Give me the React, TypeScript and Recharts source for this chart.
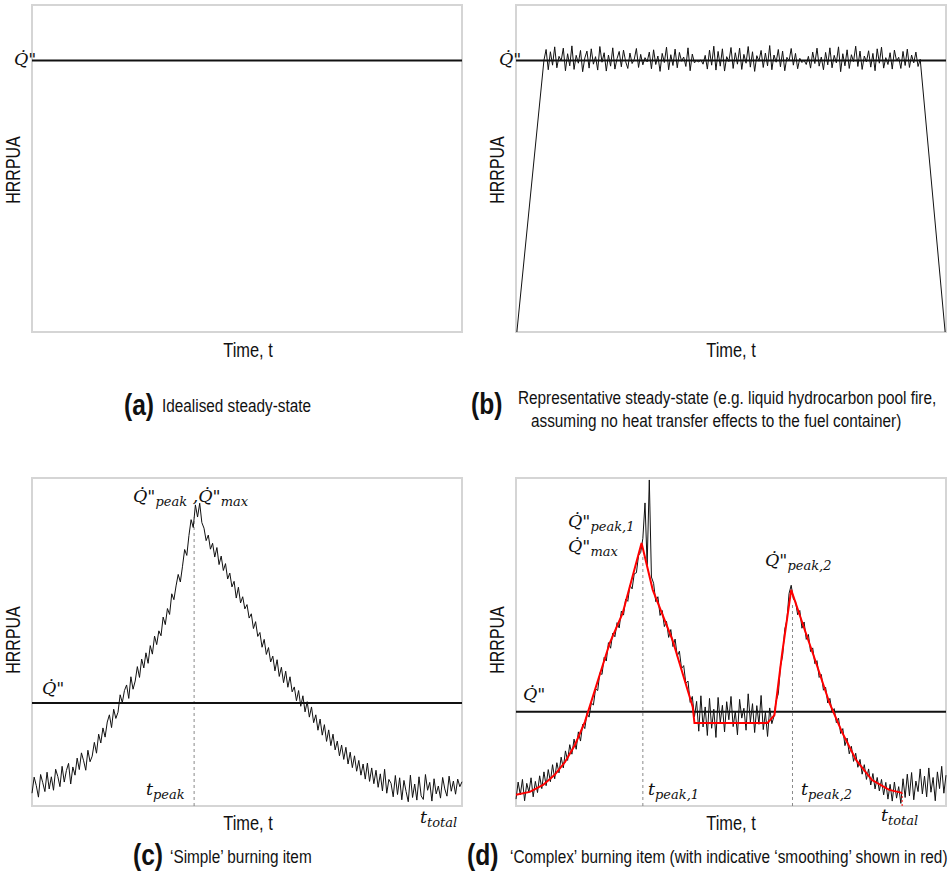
import React from 'react';
import { LineChart, Line, XAxis, YAxis, ReferenceLine, ReferenceArea } from 'recharts';

// sampling interval of the noisy records (time units, 0-100 across each panel)
const T_STEP = 0.5;

// steady-state HRRPUA level per panel (0-100 of panel height)
const Q_AB = 83;
const Q_C = 31.4;
const Q_D = 28.7;

// (b) representative steady state: ramp up, noisy plateau, ramp down
const B_RAMP_START = 0.2;
const B_NOISE_START = 6.5;
const B_RAMP_END = 99.8;
const bNoise = [
  83.1, 86.4, 80.2, 85.7, 81.6, 87.2, 80.8, 84.3, 82.9, 86.8,
  79.9, 85.1, 81.4, 87.5, 80.3, 84.6, 82.2, 86.1, 79.6, 83.8,
  85.9, 80.7, 86.6, 81.9, 84.2, 80.1, 87.3, 82.5, 85.4, 79.8,
  84.7, 81.3, 86.9, 80.4, 83.6, 85.8, 81.1, 86.2, 82.7, 80.6,
  85.3, 82.1, 83.4, 86.7, 80.9, 84.9, 81.7, 83.9, 82.6, 85.6,
  80.5, 86.3, 81.8, 84.4, 79.7, 85.2, 82.4, 87.1, 80.2, 84.8,
  81.5, 86.5, 80.8, 85.5, 82.8, 84.1, 81.2, 86.9, 79.9, 85.0,
  82.3, 83.0, 82.6, 83.2, 81.9, 84.6, 80.4, 86.2, 81.6, 87.4,
  80.1, 85.8, 81.3, 86.6, 79.8, 84.2, 82.7, 87.0, 80.6, 85.4,
  81.9, 86.8, 80.3, 84.9, 82.2, 87.3, 81.0, 85.7, 79.7, 84.5,
  82.8, 86.1, 80.9, 85.3, 81.4, 87.6, 80.2, 84.7, 82.5, 86.4,
  81.1, 85.9, 79.9, 84.0, 82.9, 86.7, 81.6, 85.2, 80.5, 83.7,
  82.4, 83.1, 81.8, 84.3, 80.7, 85.6, 82.1, 86.8, 81.3, 84.1,
  80.2, 85.5, 81.7, 86.9, 80.8, 84.6, 82.3, 87.2, 79.6, 85.1,
  81.4, 86.3, 80.6, 84.8, 82.7, 87.4, 81.2, 85.9, 80.3, 84.4,
  82.6, 86.0, 81.0, 85.2, 79.9, 86.6, 82.2, 87.1, 80.7, 83.9,
  81.8, 85.4, 80.4, 86.2, 82.9, 84.0, 80.6, 85.8, 81.5, 86.5,
  80.9, 84.7, 82.3, 85.6, 81.2, 83.4,
];

// (c) simple burning item
const C_PEAK_T = 37.7;
const cNoise = [
  3.9, 8.8, 6.2, 2.7, 9.6, 7.1, 4.4, 10.3, 5.2, 8.9,
  4.8, 11.2, 9.0, 5.9, 12.1, 7.3, 10.8, 13.0, 6.7, 11.9,
  9.4, 14.6, 11.1, 16.2, 13.8, 10.9, 17.0, 13.5, 15.2, 19.4,
  16.1, 21.9, 19.2, 23.8, 21.0, 25.6, 27.8, 23.9, 29.5, 26.7,
  28.6, 33.9, 31.5, 35.2, 36.9, 32.8, 39.4, 35.6, 38.1, 42.5,
  39.2, 44.8, 42.1, 46.7, 43.5, 48.9, 46.3, 51.8, 49.2, 53.4,
  51.9, 57.6, 55.3, 60.2, 58.4, 64.7, 62.9, 67.1, 70.6, 68.3,
  73.1, 78.2, 76.4, 82.5, 87.3, 84.9, 91.8, 88.1, 92.3, 86.4,
  84.7, 80.9, 82.6, 78.3, 80.1, 75.9, 78.8, 73.6, 76.2, 71.8,
  73.9, 69.2, 71.0, 66.8, 68.5, 63.4, 66.7, 61.9, 63.8, 60.1,
  61.4, 57.3, 58.6, 54.1, 56.2, 51.7, 52.9, 48.4, 50.8, 46.2,
  48.3, 43.9, 45.7, 41.2, 44.6, 39.5, 42.3, 37.6, 41.1, 36.2,
  39.4, 34.8, 36.3, 32.1, 35.2, 30.4, 33.6, 28.7, 31.8, 27.1,
  30.2, 25.4, 27.8, 23.1, 26.5, 21.6, 24.8, 19.7, 23.2, 18.4,
  21.9, 17.1, 19.8, 15.3, 18.6, 14.2, 17.9, 12.8, 16.4, 11.7,
  15.3, 10.6, 13.9, 9.4, 12.8, 8.2, 13.1, 7.5, 11.6, 6.8,
  10.9, 5.7, 9.8, 4.6, 11.2, 3.9, 8.1, 6.9, 2.8, 9.3,
  3.5, 8.6, 1.9, 7.8, 4.4, 1.3, 9.4, 2.6, 6.7, 1.8,
  8.9, 3.1, 2.0, 9.6, 4.8, 7.2, 1.5, 8.3, 3.7, 6.1,
  2.4, 8.7, 5.2, 3.0, 9.1, 4.5, 7.6, 3.6, 8.2, 5.9, 7.4,
];

// (d) complex burning item, measured record
const dNoise = [
  2.1, 7.3, 3.4, 8.1, 1.6, 6.9, 4.2, 8.6, 2.8, 7.5,
  4.1, 9.2, 5.3, 10.4, 6.2, 11.1, 7.4, 12.6, 8.3, 13.2,
  10.1, 14.9, 11.6, 16.8, 13.9, 18.7, 15.8, 20.4, 17.3, 22.6,
  19.8, 24.9, 23.6, 28.3, 27.1, 31.4, 30.8, 35.7, 35.2, 40.6,
  40.1, 45.3, 44.2, 49.8, 48.1, 52.7, 51.6, 55.9, 54.3, 59.4,
  58.2, 63.1, 62.4, 67.3, 66.2, 70.8, 71.1, 76.4, 77.3, 81.6,
  92.4, 73.5, 99.4, 69.8, 67.9, 62.3, 63.8, 58.1, 59.6, 54.7,
  56.3, 51.4, 53.8, 48.6, 50.9, 45.7, 47.2, 41.9, 42.8, 37.4,
  38.1, 31.6, 33.4, 27.2, 31.9, 22.8, 33.6, 24.1, 30.2, 21.5,
  32.8, 23.7, 29.5, 20.9, 33.1, 25.4, 30.7, 22.6, 31.8, 26.3,
  33.4, 24.2, 28.9, 21.7, 32.5, 26.8, 29.8, 23.1, 34.2, 25.6,
  31.2, 22.4, 30.6, 24.9, 33.7, 23.3, 28.6, 21.2, 29.9, 25.1,
  27.4, 32.1, 34.2, 42.6, 45.8, 53.9, 56.7, 64.8, 67.3, 63.1,
  62.4, 58.3, 59.6, 54.2, 56.1, 50.8, 52.3, 47.1, 48.2, 43.4,
  44.3, 39.2, 40.1, 35.3, 36.2, 31.4, 32.8, 28.6, 29.7, 25.4,
  26.8, 22.1, 23.6, 18.4, 20.7, 15.9, 18.2, 13.6, 16.1, 11.8,
  14.2, 9.7, 12.6, 8.1, 11.3, 6.4, 9.9, 5.2, 8.7, 4.6,
  8.1, 3.4, 7.2, 2.1, 6.6, 1.5, 7.3, 2.4, 5.9, 0.8,
  8.3, 2.6, 9.7, 3.1, 10.2, 1.9, 7.6, 4.4, 11.3, 3.7,
  9.1, 2.8, 11.6, 4.2, 8.7, 1.6, 10.4, 5.3, 12.1, 3.9, 9.4,
];

// (d) indicative smoothing (red)
const dSmoothT = [0, 3.2, 6.3, 9, 11.4, 13.7, 16, 21.8, 24.8, 29.2, 31.8, 36.4, 41.1, 41.5, 58.5, 60.1, 61.9, 64.0, 66.6, 69.8, 72.9, 75.9, 79.1, 82.8, 86.8, 89.8];
const dSmoothV = [3.4, 4.3, 6.4, 9.5, 13.4, 18.6, 25.6, 49.7, 58.8, 80.2, 65.9, 50.6, 30.2, 25.3, 25.3, 27.7, 46.6, 65.9, 55.8, 43.6, 31.4, 22.3, 14.0, 7.9, 4.9, 4.0];
const D_PEAK1_T = 29.5;
const D_PEAK2_T = 64.3;
const D_TOTAL_T = 89.8;

const BORDER = '#d5d5d5';
const SANS = '"Liberation Sans", Arial, sans-serif';
const SERIF = '"DejaVu Serif", serif';
const NARROW = 0.82;
const MATH_SIZE = 17.5;

const sampled = (vals: number[]) => vals.map((v, i) => ({ t: i * T_STEP, v }));

const aData = [{ t: 0, v: Q_AB }, { t: 100, v: Q_AB }];
const bData = [
  { t: B_RAMP_START, v: 0 },
  ...bNoise.map((v, i) => ({ t: B_NOISE_START + i * T_STEP, v })),
  { t: B_RAMP_END, v: 0 },
];
const cData = sampled(cNoise);
const dData = sampled(dNoise);
const dSmooth = dSmoothT.map((t, i) => ({ t, v: dSmoothV[i] }));

function Panel({ x, y, w, h, children }: { x: number; y: number; w: number; h: number; children?: React.ReactNode }) {
  return (
    <div style={{ position: 'absolute', left: x - 2, top: y - 2 }}>
      <LineChart width={w + 4} height={h + 4} margin={{ top: 2, right: 2, bottom: 2, left: 2 }}>
        <XAxis type="number" dataKey="t" domain={[0, 100]} hide />
        <YAxis type="number" domain={[0, 100]} hide />
        <ReferenceArea x1={0} x2={100} y1={0} y2={100} fill="none" stroke={BORDER} strokeWidth={2} ifOverflow="visible" />
        {children}
      </LineChart>
    </div>
  );
}

function Sans({ x, base, size, bold, center, children }: any) {
  return (
    <div
      style={{
        position: 'absolute',
        left: x,
        top: base - 0.85 * size,
        fontFamily: SANS,
        fontSize: size,
        fontWeight: bold ? 700 : 400,
        lineHeight: 1,
        whiteSpace: 'nowrap',
        color: '#111',
        transformOrigin: center ? '50% 50%' : '0 0',
        transform: center ? `translateX(-50%) scaleX(${NARROW})` : `scaleX(${NARROW})`,
      }}
    >
      {children}
    </div>
  );
}

function YTitle({ x, y }: { x: number; y: number }) {
  return (
    <div
      style={{
        position: 'absolute',
        left: x,
        top: y,
        fontFamily: SANS,
        fontSize: 19.5,
        lineHeight: 1,
        whiteSpace: 'nowrap',
        color: '#111',
        transform: `translate(-50%, -50%) rotate(-90deg) scaleX(${NARROW})`,
      }}
    >
      HRRPUA
    </div>
  );
}

const subStyle: React.CSSProperties = { fontSize: 13, verticalAlign: '-0.3em' };

function MathLabel({ x, base, children }: any) {
  return (
    <div
      style={{
        position: 'absolute',
        left: x,
        top: base - 0.85 * MATH_SIZE,
        fontFamily: SERIF,
        fontStyle: 'italic',
        fontSize: MATH_SIZE,
        lineHeight: 1,
        whiteSpace: 'nowrap',
        color: '#111',
      }}
    >
      {children}
    </div>
  );
}

const Qd = ({ sub }: { sub?: string }) => (
  <span>
    Q{'\u0307'}"{sub ? <span style={subStyle}>{sub}</span> : null}
  </span>
);

const T = ({ sub }: { sub: string }) => (
  <span>
    t<span style={subStyle}>{sub}</span>
  </span>
);

export default function App() {
  const dash = { stroke: '#8a8a8a', strokeDasharray: '3 3', strokeWidth: 1 };
  const capSize = 18.7;
  return (
    <div style={{ position: 'absolute', left: 0, top: 0, width: 949, height: 881, background: '#fff', overflow: 'hidden' }}>
      {/* (a) */}
      <Panel x={32} y={5} w={430} h={327}>
        <Line data={aData} dataKey="v" stroke="#111" strokeWidth={2} dot={false} isAnimationActive={false} />
      </Panel>
      {/* (b) */}
      <Panel x={516} y={5} w={430} h={327}>
        <ReferenceLine y={Q_AB} stroke="#111" strokeWidth={2} />
        <Line data={bData} dataKey="v" stroke="#111" strokeWidth={1} dot={false} isAnimationActive={false} />
      </Panel>
      {/* (c) */}
      <Panel x={32} y={478} w={430} h={328}>
        <ReferenceLine segment={[{ x: C_PEAK_T, y: 0 }, { x: C_PEAK_T, y: 88 }]} {...dash} />
        <ReferenceLine y={Q_C} stroke="#111" strokeWidth={2} />
        <Line data={cData} dataKey="v" stroke="#111" strokeWidth={1} dot={false} isAnimationActive={false} />
      </Panel>
      {/* (d) */}
      <Panel x={516} y={478} w={430} h={328}>
        <ReferenceLine segment={[{ x: D_PEAK1_T, y: 0 }, { x: D_PEAK1_T, y: 76 }]} {...dash} />
        <ReferenceLine segment={[{ x: D_PEAK2_T, y: 0 }, { x: D_PEAK2_T, y: 62 }]} {...dash} />
        <ReferenceLine y={Q_D} stroke="#111" strokeWidth={2} />
        <Line data={dData} dataKey="v" stroke="#111" strokeWidth={1} dot={false} isAnimationActive={false} />
        <Line data={dSmooth} dataKey="v" stroke="#ff0000" strokeWidth={2} dot={false} isAnimationActive={false} />
        <ReferenceLine segment={[{ x: D_TOTAL_T, y: 0 }, { x: D_TOTAL_T, y: 4 }]} stroke="#ff0000" strokeDasharray="2 2" strokeWidth={1} />
      </Panel>

      {/* axis titles */}
      <YTitle x={14} y={170} />
      <YTitle x={498} y={170} />
      <YTitle x={14} y={640} />
      <YTitle x={498} y={640} />
      <Sans x={248} base={357} size={20} center>Time, t</Sans>
      <Sans x={731} base={357} size={20} center>Time, t</Sans>
      <Sans x={248} base={830} size={20} center>Time, t</Sans>
      <Sans x={731} base={830} size={20} center>Time, t</Sans>

      {/* math annotations */}
      <MathLabel x={14} base={66}><Qd /></MathLabel>
      <MathLabel x={499} base={66}><Qd /></MathLabel>
      <MathLabel x={42} base={695}><Qd /></MathLabel>
      <MathLabel x={133} base={503}><Qd sub="peak" /> ,<Qd sub="max" /></MathLabel>
      <MathLabel x={146} base={796}><T sub="peak" /></MathLabel>
      <MathLabel x={420} base={824}><T sub="total" /></MathLabel>
      <MathLabel x={523} base={701}><Qd /></MathLabel>
      <MathLabel x={568} base={528}><Qd sub="peak,1" /></MathLabel>
      <MathLabel x={568} base={553}><Qd sub="max" /></MathLabel>
      <MathLabel x={765} base={567}><Qd sub="peak,2" /></MathLabel>
      <MathLabel x={648} base={796}><T sub="peak,1" /></MathLabel>
      <MathLabel x={801} base={796}><T sub="peak,2" /></MathLabel>
      <MathLabel x={881} base={822}><T sub="total" /></MathLabel>

      {/* captions */}
      <Sans x={124} base={415} size={30} bold>(a)</Sans>
      <Sans x={162} base={413} size={capSize}>Idealised steady-state</Sans>
      <Sans x={471} base={414} size={30} bold>(b)</Sans>
      <Sans x={518} base={405} size={capSize}>Representative steady-state (e.g. liquid hydrocarbon pool fire,</Sans>
      <Sans x={531} base={428} size={capSize}>assuming no heat transfer effects to the fuel container)</Sans>
      <Sans x={133} base={865} size={30} bold>(c)</Sans>
      <Sans x={170} base={864} size={capSize}>{'\u2018Simple\u2019 burning item'}</Sans>
      <Sans x={467} base={865} size={30} bold>(d)</Sans>
      <Sans x={510} base={864} size={capSize}>{'\u2018Complex\u2019 burning item (with indicative \u2018smoothing\u2019 shown in red)'}</Sans>
    </div>
  );
}
